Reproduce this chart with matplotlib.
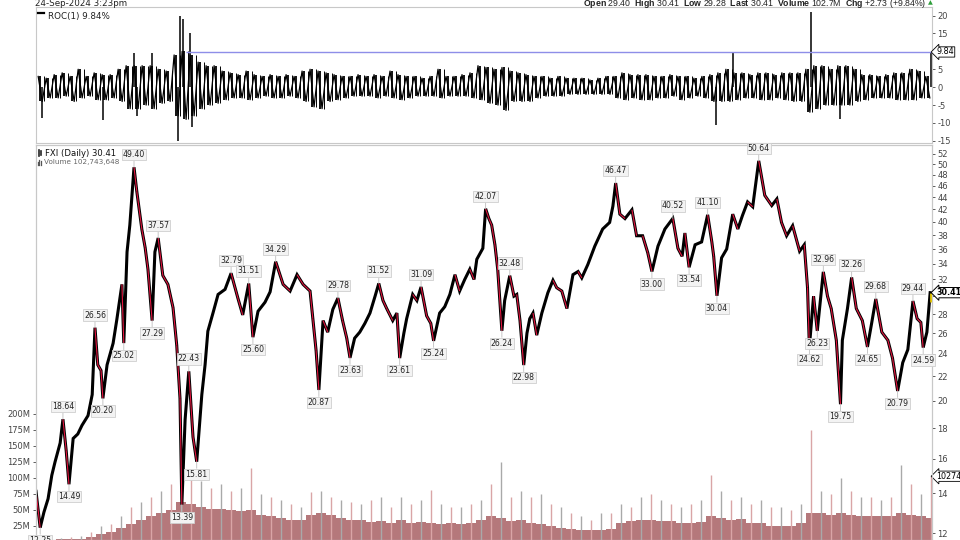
import numpy as np
import matplotlib
matplotlib.use("Agg")
import matplotlib.pyplot as plt
from matplotlib.collections import LineCollection
from matplotlib.lines import Line2D
from matplotlib.transforms import blended_transform_factory
from matplotlib.ticker import FixedLocator, FuncFormatter, NullLocator, NullFormatter

plt.rcParams['font.family'] = ['DejaVu Sans']
plt.rcParams['axes.unicode_minus'] = False
plt.rcParams['mathtext.fontset'] = 'custom'
plt.rcParams['mathtext.rm'] = 'Liberation Sans'
plt.rcParams['mathtext.bf'] = 'Liberation Sans:bold'

# ---- data ----
# FXI closing path (decimal year, price)
px_years = [2005.45, 2005.54, 2005.62, 2005.71, 2005.79, 2005.86, 2005.97, 2006.03, 2006.10, 2006.16,
            2006.25, 2006.35, 2006.44, 2006.57, 2006.66, 2006.72, 2006.78, 2006.85, 2006.89, 2006.98,
            2007.11, 2007.19, 2007.30, 2007.34, 2007.41, 2007.47, 2007.56, 2007.62, 2007.73, 2007.80,
            2007.86, 2007.95, 2008.01, 2008.08, 2008.18, 2008.29, 2008.40, 2008.48, 2008.55, 2008.59,
            2008.66, 2008.74, 2008.83, 2008.91, 2009.02, 2009.09, 2009.15, 2009.26, 2009.37, 2009.52,
            2009.65, 2009.80, 2009.90, 2010.03, 2010.12, 2010.23, 2010.38, 2010.49, 2010.61, 2010.77,
            2010.92, 2011.07, 2011.20, 2011.35, 2011.41, 2011.48, 2011.54, 2011.63, 2011.73, 2011.84,
            2011.95, 2012.05, 2012.14, 2012.21, 2012.31, 2012.42, 2012.53, 2012.64, 2012.75, 2012.83,
            2012.92, 2013.00, 2013.13, 2013.22, 2013.28, 2013.37, 2013.43, 2013.56, 2013.65, 2013.74,
            2013.86, 2013.95, 2014.01, 2014.14, 2014.25, 2014.36, 2014.47, 2014.57, 2014.68, 2014.79,
            2014.88, 2014.94, 2015.07, 2015.13, 2015.20, 2015.26, 2015.33, 2015.39, 2015.48, 2015.54,
            2015.65, 2015.74, 2015.80, 2015.87, 2015.95, 2016.02, 2016.08, 2016.15, 2016.23, 2016.34,
            2016.47, 2016.58, 2016.66, 2016.77, 2016.88, 2017.01, 2017.12, 2017.20, 2017.33, 2017.48,
            2017.65, 2017.80, 2017.87, 2017.93, 2018.02, 2018.13, 2018.28, 2018.38, 2018.51, 2018.62,
            2018.71, 2018.84, 2018.99, 2019.16, 2019.27, 2019.36, 2019.42, 2019.51, 2019.64, 2019.78,
            2019.91, 2020.00, 2020.04, 2020.11, 2020.21, 2020.32, 2020.38, 2020.45, 2020.56, 2020.66,
            2020.77, 2020.88, 2021.01, 2021.14, 2021.29, 2021.40, 2021.50, 2021.61, 2021.74, 2021.89,
            2021.99, 2022.06, 2022.10, 2022.19, 2022.27, 2022.40, 2022.49, 2022.57, 2022.68, 2022.77,
            2022.81, 2022.92, 2023.01, 2023.11, 2023.24, 2023.35, 2023.44, 2023.53, 2023.66, 2023.79,
            2023.89, 2024.00, 2024.11, 2024.22, 2024.33, 2024.42, 2024.50, 2024.55, 2024.63, 2024.70]
px_close = [14.1, 12.25, 13.0, 13.7, 15.0, 15.8, 17.0, 18.64, 16.5, 14.49,
            17.3, 17.6, 18.2, 18.9, 20.5, 26.56, 23.0, 22.5, 20.20, 23.0,
            25.0, 27.4, 31.4, 25.02, 35.6, 39.5, 49.40, 45.0, 38.8, 36.2,
            33.3, 27.29, 35.6, 37.57, 32.5, 31.4, 28.7, 24.8, 20.2, 13.39,
            18.6, 22.43, 17.4, 15.81, 20.5, 23.0, 26.2, 28.1, 30.2, 30.8,
            32.79, 29.7, 27.9, 31.51, 25.60, 28.3, 29.3, 30.5, 34.29, 31.4,
            30.6, 32.6, 31.4, 30.6, 27.5, 24.3, 20.87, 27.3, 26.1, 28.5,
            29.78, 27.3, 25.5, 23.63, 25.5, 26.1, 27.0, 28.1, 30.0, 31.52,
            29.5, 28.6, 27.3, 28.1, 23.61, 26.0, 27.5, 30.2, 29.5, 31.09,
            27.8, 27.0, 25.24, 28.1, 28.8, 30.2, 32.6, 30.6, 32.0, 33.3,
            32.0, 34.6, 36.1, 42.07, 40.5, 39.5, 36.6, 33.3, 26.24, 29.5,
            32.48, 30.0, 30.2, 27.3, 22.98, 26.0, 27.5, 28.1, 25.8, 28.1,
            30.4, 31.9, 31.0, 30.6, 28.6, 32.6, 33.0, 32.2, 33.9, 36.4,
            38.9, 39.9, 42.5, 46.47, 41.2, 40.5, 41.9, 37.9, 37.9, 35.5,
            33.00, 36.4, 38.9, 40.52, 36.1, 35.0, 38.3, 33.54, 36.6, 37.0,
            41.10, 37.0, 35.0, 30.04, 34.8, 36.0, 38.3, 41.2, 38.9, 41.0,
            43.2, 42.4, 50.64, 44.3, 42.6, 43.7, 39.9, 37.9, 39.4, 35.7,
            36.6, 31.0, 24.62, 30.0, 26.23, 32.96, 30.0, 28.6, 25.3, 19.75,
            25.3, 28.6, 32.26, 28.6, 27.3, 24.65, 27.0, 29.68, 26.1, 25.3,
            23.6, 20.79, 23.2, 24.4, 29.44, 27.5, 27.1, 24.59, 26.1, 30.41]

# labelled swing highs / lows
swing_years = [2005.54, 2006.03, 2006.16, 2006.72, 2006.89, 2007.34, 2007.56, 2007.95, 2008.08, 2008.59,
               2008.74, 2008.91, 2009.65, 2010.03, 2010.12, 2010.61, 2011.54, 2011.95, 2012.21, 2012.83,
               2013.28, 2013.74, 2014.01, 2015.13, 2015.48, 2015.65, 2015.95, 2017.93, 2018.71, 2019.16,
               2019.51, 2019.91, 2020.11, 2021.01, 2022.10, 2022.27, 2022.40, 2022.77, 2023.01, 2023.35,
               2023.53, 2024.00, 2024.33, 2024.55]
swing_vals = [12.25, 18.64, 14.49, 26.56, 20.20, 25.02, 49.40, 27.29, 37.57, 13.39,
              22.43, 15.81, 32.79, 31.51, 25.60, 34.29, 20.87, 29.78, 23.63, 31.52,
              23.61, 31.09, 25.24, 42.07, 26.24, 32.48, 22.98, 46.47, 33.00, 40.52,
              33.54, 41.10, 30.04, 50.64, 24.62, 26.23, 32.96, 19.75, 32.26, 24.65,
              29.68, 20.79, 29.44, 24.59]
swing_is_high = [False, True, False, True, False, False, True, False, True, False,
                 True, False, True, True, False, True, False, True, False, True,
                 False, True, False, True, False, True, False, True, False, True,
                 False, True, False, True, False, False, True, False, True, False,
                 True, False, True, False]

# volume (millions): typical level and tallest spike, evenly spaced in time
vol_first, vol_last = 2005.56, 2024.71
vol_typ = [3, 3, 4, 4, 5, 8, 12, 15, 22, 28,
           35, 40, 45, 50, 62, 60, 55, 52, 52, 50,
           48, 50, 42, 40, 38, 35, 35, 42, 45, 42,
           38, 35, 35, 32, 33, 30, 35, 30, 32, 30,
           28, 30, 28, 30, 35, 40, 38, 33, 35, 30,
           28, 25, 22, 20, 18, 18, 18, 20, 30, 33,
           35, 35, 33, 33, 30, 30, 32, 40, 38, 35,
           36, 30, 30, 25, 25, 25, 30, 45, 45, 42,
           45, 42, 40, 40, 40, 40, 45, 42, 40, 38]
vol_peak = [6, 6, 7, 8, 9, 15, 25, 28, 40, 55,
            62, 70, 80, 90, 135, 100, 95, 85, 90, 80,
            85, 115, 75, 70, 65, 60, 55, 78, 80, 70,
            65, 62, 60, 65, 70, 55, 70, 60, 65, 82,
            60, 55, 55, 60, 65, 90, 125, 70, 80, 70,
            75, 60, 55, 45, 40, 35, 45, 45, 60, 55,
            70, 75, 65, 60, 55, 60, 65, 105, 80, 65,
            70, 60, 65, 55, 55, 50, 60, 175, 80, 75,
            100, 80, 70, 70, 65, 70, 120, 90, 75, 103]

# ROC(1) typical daily band (%), evenly spaced in time
roc_first, roc_last_t = 2005.54, 2024.65
roc_hi = [3, 2.5, 3.5, 4, 3, 5, 3, 4, 3.5, 3.5,
          5, 6, 6, 6, 6, 5, 4.5, 9, 10, 9,
          7, 6, 6, 4.5, 4, 3.5, 4.5, 3.5, 3, 3.5,
          3, 3.5, 3, 4.5, 5, 4.5, 4, 3.5, 3, 3,
          3.5, 3, 3.5, 3, 4.5, 3.5, 3, 3, 2.5, 3,
          5, 3, 3, 3.5, 4, 6, 5.5, 5, 5.5, 4.5,
          4, 3.5, 3, 3, 2.5, 3, 2.5, 2.5, 2.5, 2,
          2.5, 3, 3, 4, 3.5, 3.5, 3.5, 3, 3, 3.5,
          3, 3, 2.5, 3, 3.5, 4, 5, 4, 4, 3.5,
          4, 4, 3.5, 4, 4, 4, 5, 6, 6, 5,
          6, 6, 5, 3.5, 3.5, 3, 3.5, 4, 4, 5,
          4.5, 3]
roc_lo = [-4, -3, -3, -2.5, -4, -3, -2.5, -3.5, -3.5, -3,
          -4, -6, -6, -5, -6, -4.5, -4, -8, -9, -8,
          -6, -5, -4.5, -3.5, -3, -3, -3.5, -3, -2.5, -3,
          -3, -2.5, -3, -4, -5.5, -6, -4, -3.5, -3, -2.5,
          -2.5, -2.5, -3, -2.5, -3, -3.5, -3, -2.5, -2.5, -2.5,
          -3, -2.5, -2.5, -2.5, -3, -3.5, -4.5, -5, -6.5, -4,
          -4, -4, -3, -2.5, -2.5, -2.5, -2, -2, -2, -2,
          -2, -2, -3, -3.5, -3, -3.5, -3.5, -3, -3, -2.5,
          -3.5, -3, -2.5, -3, -4, -4, -4, -3.5, -3, -3,
          -3.5, -3.5, -3, -3.5, -4, -4, -7, -6, -5, -5,
          -5, -5, -4, -3.5, -3, -3, -3, -3.5, -3.5, -3.5,
          -3, -3]
# single-day ROC spikes
spike_years = [2005.58, 2006.89, 2007.56, 2007.62, 2007.95, 2008.51, 2008.55, 2008.61, 2008.76, 2008.81,
               2020.08, 2020.45, 2022.13, 2022.75]
spike_vals = [-8.5, -9.2, 9.5, -8.0, 9.5, -15.0, 20.0, 19.0, 15.0, -11.0,
              -10.5, 9.8, 21.0, -9.0]

# last bar / header values
last_t = 2024.72
last_open, last_high, last_low, last_close = 29.40, 30.41, 29.28, 30.41
last_volume = 102743648
last_chg = 2.73
roc_now = 9.84
roc_line_start = 2008.68

price_ticks = list(range(12, 53, 2))
vol_ticks = [25, 50, 75, 100, 125, 150, 175, 200]
roc_ticks = [-15, -10, -5, 0, 5, 10, 15, 20]

# ---- figure ----
W, H = 960, 540
fig = plt.figure(figsize=(W / 100, H / 100), dpi=100)
fx = lambda p: p / W
fy = lambda p: 1 - p / H

x0, x1 = 2005.45, 2024.74
grid = '#c8c8c8'

ax_roc = fig.add_axes([fx(36), fy(143), fx(896), 136 / H])
ax_vol = fig.add_axes([fx(36), 0, fx(896), 395 / H])
ax_px = ax_vol.twinx()

for a in (ax_roc, ax_vol, ax_px):
    a.set_xlim(x0, x1)
    a.set_xticks([])
    for s in a.spines.values():
        s.set_color(grid)
        s.set_linewidth(0.8)
    a.patch.set_alpha(0)

# ROC panel
n = len(roc_hi)
rt = np.linspace(roc_first, roc_last_t, n)
d = rt[1] - rt[0]
zx, zy = [], []
for t, h, l in zip(rt, roc_hi, roc_lo):
    zx += [t - d / 4, t + d / 4]
    zy += [h, l]
ax_roc.vlines(rt, roc_lo, roc_hi, color='black', lw=1.3)
ax_roc.vlines(rt + d / 2, roc_lo, roc_hi, color='black', lw=0.7)
ax_roc.plot(zx, zy, color='black', lw=0.9)
ax_roc.vlines(spike_years, 0, spike_vals, color='black', lw=1.1)
ax_roc.vlines(last_t, 0, roc_now, color='black', lw=1.1)
ax_roc.hlines(roc_now, roc_line_start, x1, color='#8e8ee8', lw=1)
ax_roc.set_ylim(-15.6, 22.4)
ax_roc.yaxis.tick_right()
ax_roc.set_yticks(roc_ticks)
ax_roc.yaxis.set_major_formatter(FuncFormatter(lambda v, p: '' if v == 10 else f"{int(v)}"))
ax_roc.tick_params(axis='y', length=2, width=0.6, labelsize=6, colors='#444', pad=2)
tr = blended_transform_factory(ax_roc.transAxes, ax_roc.transData)
ax_roc.text(1.005, roc_now, f"{roc_now:.2f}", transform=tr, fontsize=5.8, va='center', ha='left',
            bbox=dict(boxstyle='larrow,pad=0.08', fc='white', ec='black', lw=0.6), zorder=5)
ax_roc.text(0.013, 0.93, f"ROC(1) {roc_now:.2f}%", transform=ax_roc.transAxes, fontsize=6.3,
            va='center', ha='left', color='#222')
fig.add_artist(Line2D([fx(38), fx(44)], [fy(13), fy(13)], color='black', lw=1.6))

# volume
vt = np.linspace(vol_first, vol_last, len(vol_typ))
vs = vt[1] - vt[0]
ax_vol.bar(vt, vol_typ, width=vs, color='#b5787b', linewidth=0)
spike_cols = ['#d9a5a6' if i % 2 else '#a9a9a9' for i in range(len(vol_peak))]
ax_vol.vlines(vt, 0, vol_peak, colors=spike_cols, lw=1.0)
ax_vol.set_ylim(3.1, 620.3)
ax_vol.set_yticks(vol_ticks)
ax_vol.yaxis.set_major_formatter(FuncFormatter(lambda v, p: f"{int(v)}M"))
ax_vol.tick_params(axis='y', length=2, width=0.6, labelsize=6, colors='#444', pad=2)
trv = blended_transform_factory(ax_vol.transAxes, ax_vol.transData)
ax_vol.text(1.005, last_volume / 1e6, f"{last_volume}", transform=trv, fontsize=5.8, va='center',
            ha='left', bbox=dict(boxstyle='larrow,pad=0.08', fc='white', ec='black', lw=0.6),
            clip_on=False)

# price
pts = np.column_stack([px_years, px_close])
segs = np.stack([pts[:-1], pts[1:]], axis=1)
ax_px.plot(px_years, px_close, color='black', lw=2.2, solid_joinstyle='miter')
down = [segs[i] for i in range(len(segs)) if px_close[i + 1] < px_close[i]]
ax_px.add_collection(LineCollection(down, colors='#e3153f', linewidths=0.8))
ax_px.vlines(last_t, last_low, last_high, color='#e6c700', lw=2)
ax_px.set_yscale('log')
ax_px.set_ylim(11.68, 53.84)
ax_px.yaxis.set_major_locator(FixedLocator(price_ticks))
ax_px.yaxis.set_major_formatter(FuncFormatter(lambda v, p: '' if round(v) == 30 else f"{int(round(v))}"))
ax_px.yaxis.set_minor_locator(NullLocator())
ax_px.yaxis.set_minor_formatter(NullFormatter())
ax_px.tick_params(axis='y', length=2, width=0.6, labelsize=6, colors='#444', pad=2)
trp = blended_transform_factory(ax_px.transAxes, ax_px.transData)
ax_px.text(1.005, last_close, f"{last_close:.2f}", transform=trp, fontsize=5.8, va='center',
           ha='left', fontweight='bold',
           bbox=dict(boxstyle='larrow,pad=0.08', fc='white', ec='black', lw=0.7), zorder=6)

for t, v, hi in zip(swing_years, swing_vals, swing_is_high):
    ax_px.annotate(f"{v:.2f}", xy=(t, v), xytext=(0, 8 if hi else -8), textcoords='offset pixels',
                   ha='center', va='bottom' if hi else 'top', fontsize=5.6, color='#222',
                   bbox=dict(boxstyle='square,pad=0.15', fc='#f3f3f3', ec='#cfcfcf', lw=0.6),
                   arrowprops=dict(arrowstyle='-', color='#bdbdbd', lw=0.6, shrinkA=0, shrinkB=0),
                   annotation_clip=False, zorder=5)

ax_px.text(0.0095, 0.978, f"FXI (Daily) {last_close:.2f}", transform=ax_px.transAxes, fontsize=6.1,
           va='center', ha='left', color='#111')
ax_px.text(0.0085, 0.956, f"Volume {last_volume:,}", transform=ax_px.transAxes, fontsize=5.2,
           va='center', ha='left', color='#666')
# small legend icons
fig.add_artist(Line2D([fx(38.5), fx(38.5)], [fy(150), fy(156)], color='#222', lw=1.2))
fig.add_artist(Line2D([fx(41), fx(41)], [fy(151), fy(155)], color='#222', lw=1.2))
for k, hgt in enumerate([3, 5, 4]):
    fig.add_artist(Line2D([fx(37.5 + 1.8 * k)] * 2, [fy(164.5), fy(164.5 - hgt)], color='#555', lw=0.9))

# header
fig.text(fx(35), fy(3), "24-Sep-2024 3:23pm", fontsize=6.3, va='center', ha='left', color='#222')
hdr = (r"$\mathbf{Open}$ %.2f  $\mathbf{High}$ %.2f  $\mathbf{Low}$ %.2f  $\mathbf{Last}$ %.2f  "
       r"$\mathbf{Volume}$ %.1fM  $\mathbf{Chg}$ +%.2f (+%.2f%%)"
       % (last_open, last_high, last_low, last_close, last_volume / 1e6, last_chg, roc_now))
fig.text(fx(926), fy(3), hdr, fontsize=6.3, va='center', ha='right', color='#222',
         family='Liberation Sans')
fig.text(fx(928), fy(3), "\u25b2", fontsize=4.5, va='center', ha='left', color='#2e9e3a')

fig.savefig("out.png", dpi=100)
